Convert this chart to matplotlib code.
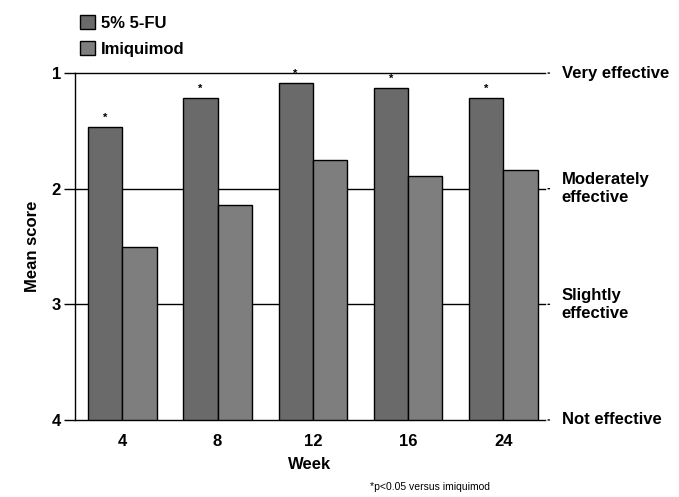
import numpy as np
import matplotlib
matplotlib.use('Agg')
import matplotlib.pyplot as plt
from matplotlib.patches import Patch

weeks = ['4', '8', '12', '16', '24']
fu_scores = [1.47, 1.22, 1.09, 1.13, 1.22]
imiq_scores = [2.50, 2.14, 1.75, 1.89, 1.84]
effect_levels = [1, 2, 3, 4]
effect_labels = ['Very effective', 'Moderately\neffective', 'Slightly\neffective', 'Not effective']

plt.rcParams['font.family'] = ['Liberation Sans', 'DejaVu Sans']
plt.rcParams['font.weight'] = 'bold'

fig = plt.figure(figsize=(6.79, 4.97), dpi=100)
ax = fig.add_axes([0.110, 0.155, 0.693, 0.698])

x = np.arange(len(weeks))
w = 0.36
base = 4
ax.bar(x - w/2, [s - base for s in fu_scores], w, bottom=base,
       color='#6a6a6a', edgecolor='black', linewidth=1, zorder=3)
ax.bar(x + w/2, [s - base for s in imiq_scores], w, bottom=base,
       color='#7e7e7e', edgecolor='black', linewidth=1, zorder=3)

for xi, s in zip(x, fu_scores):
    ax.text(xi - w/2, s - 0.04, '*', ha='center', va='bottom', fontsize=8)

ax.set_xlim(-0.5, 4.44)
ax.set_ylim(4, 1)
for lv in effect_levels:
    ax.axhline(lv, color='black', linewidth=1, zorder=1, clip_on=False)

ax.set_yticks(effect_levels)
ax.set_yticklabels([str(v) for v in effect_levels], fontsize=12, fontweight='bold')
ax.tick_params(axis='y', direction='out', length=8, width=1, pad=2)
ax.set_xticks(x)
ax.set_xticklabels(weeks, fontsize=12, fontweight='bold')
ax.tick_params(axis='x', length=0, pad=10)
ax.set_xlabel('Week', fontsize=12, fontweight='bold', labelpad=6)
ax.set_ylabel('Mean score', fontsize=12, fontweight='bold', labelpad=8)

for sp in ['top', 'right', 'bottom']:
    ax.spines[sp].set_visible(False)
ax.spines['left'].set_linewidth(1)

# right-hand effectiveness scale
for lv, lab in zip(effect_levels, effect_labels):
    ax.annotate('', xy=(1.0, lv), xycoords=('axes fraction', 'data'),
                xytext=(1.015, lv), textcoords=('axes fraction', 'data'),
                arrowprops=dict(arrowstyle='-', color='black', lw=1))
    ax.text(1.035, lv, lab, transform=ax.get_yaxis_transform(),
            ha='left', va='center', fontsize=12, fontweight='bold', linespacing=1.3)

handles = [Patch(facecolor='#6a6a6a', edgecolor='black'),
           Patch(facecolor='#7e7e7e', edgecolor='black')]
fig.legend(handles, ['5% 5-FU', 'Imiquimod'], loc='upper left',
           bbox_to_anchor=(0.095, 1.0), frameon=False,
           handlelength=0.9, handleheight=0.9, handletextpad=0.4,
           labelspacing=0.65, prop={'weight': 'bold', 'size': 12})

fig.text(0.545, 0.015, '*p<0.05 versus imiquimod', fontsize=7.5, fontweight='normal')

fig.savefig('out.png', dpi=100)
